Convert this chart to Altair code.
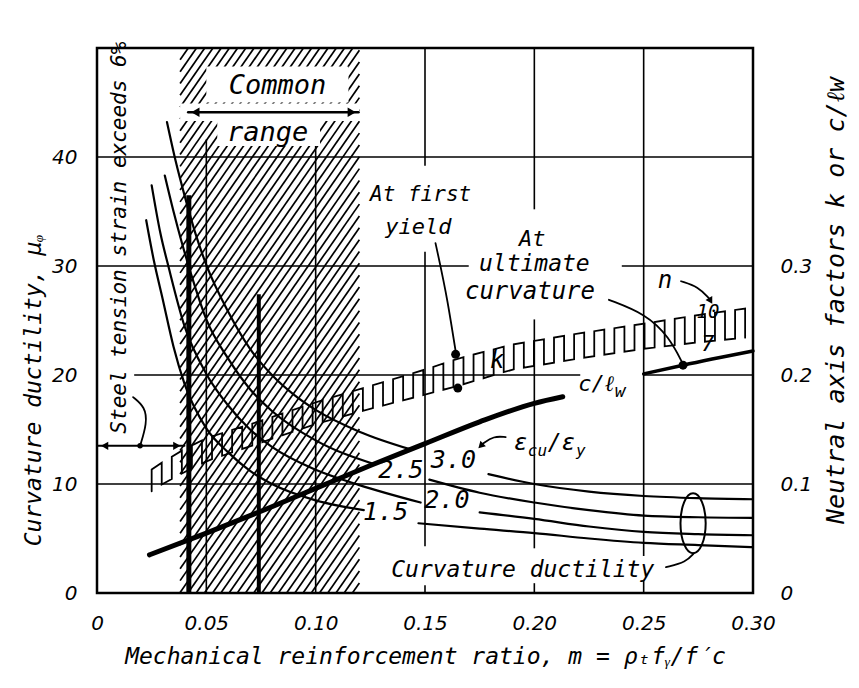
import altair as alt
import numpy as np
import pandas as pd

FONT = "DejaVu Sans"
LETTER = "DejaVu Sans Mono"

# ---------------- data ----------------
M_TICKS = [0, 0.05, 0.10, 0.15, 0.20, 0.25, 0.30]
MU_TICKS = [0, 10, 20, 30, 40]
K_TICKS = [0, 0.1, 0.2, 0.3]

# curvature ductility curves, eps_cu/eps_y = 3.0, 2.5, 2.0, 1.5 (split at their labels)
r30_m1 = [0.032, 0.036, 0.040, 0.045, 0.050, 0.060, 0.070, 0.080, 0.090, 0.100, 0.120, 0.143]
r30_mu1 = [43.2, 39.6, 36.5, 33.0, 30.1, 25.8, 22.4, 20.0, 18.2, 16.8, 14.8, 13.2]
r30_m2 = [0.179, 0.200, 0.225, 0.250, 0.275, 0.300]
r30_mu2 = [10.9, 10.0, 9.3, 8.9, 8.7, 8.6]

r25_m1 = [0.031, 0.035, 0.039, 0.045, 0.050, 0.060, 0.070, 0.080, 0.100, 0.127]
r25_mu1 = [38.3, 35.0, 32.0, 28.0, 25.1, 21.5, 18.7, 16.7, 14.0, 11.8]
r25_m2 = [0.152, 0.175, 0.200, 0.225, 0.250, 0.275, 0.300]
r25_mu2 = [10.4, 9.2, 8.3, 7.6, 7.1, 6.95, 6.9]

r20_m1 = [0.025, 0.029, 0.033, 0.040, 0.050, 0.060, 0.070, 0.080, 0.100, 0.120, 0.148]
r20_mu1 = [37.4, 33.0, 29.7, 24.5, 20.1, 17.2, 15.0, 13.4, 11.3, 9.9, 8.3]
r20_m2 = [0.175, 0.200, 0.225, 0.250, 0.275, 0.300]
r20_mu2 = [7.4, 6.8, 6.1, 5.6, 5.4, 5.3]

r15_m1 = [0.0225, 0.026, 0.030, 0.035, 0.040, 0.050, 0.060, 0.070, 0.080, 0.100, 0.122]
r15_mu1 = [34.2, 30.5, 27.0, 22.6, 19.2, 15.1, 12.9, 11.2, 10.0, 8.5, 7.6]
r15_m2 = [0.147, 0.175, 0.200, 0.225, 0.250, 0.275, 0.300]
r15_mu2 = [6.4, 5.9, 5.5, 5.0, 4.6, 4.4, 4.2]

# neutral axis factor k at first yield, n = 10 (upper) and n = 7 (lower)
k_m = [0.024, 0.030, 0.040, 0.050, 0.075, 0.100, 0.125, 0.150, 0.165, 0.190, 0.220, 0.250, 0.275, 0.300]
k_n10 = [0.112, 0.120, 0.132, 0.142, 0.158, 0.175, 0.190, 0.205, 0.215, 0.228, 0.238, 0.247, 0.255, 0.262]
k_n7 = [0.092, 0.100, 0.111, 0.121, 0.138, 0.155, 0.169, 0.182, 0.190, 0.205, 0.215, 0.224, 0.230, 0.235]

# c/lw at ultimate curvature
c_m1 = [0.024, 0.050, 0.075, 0.100, 0.125, 0.150, 0.175, 0.200, 0.213]
c_v1 = [0.035, 0.055, 0.075, 0.096, 0.117, 0.137, 0.157, 0.174, 0.180]
c_m2 = [0.250, 0.268, 0.300]
c_v2 = [0.201, 0.209, 0.222]

# common range of m and the 6 % steel strain limit
COMMON = [0.038, 0.120]
STEEL_LIMIT_M = 0.042
STEEL_LIMIT_MU = 36.5
EXAMPLE_M = 0.074
EXAMPLE_MU = 27.4

# grid line pieces (broken where the lettering sits)
vg_m = [0.05, 0.10, 0.15, 0.15, 0.15, 0.20, 0.20, 0.20, 0.25, 0.25]
vg_lo = [0, 0, 0, 4.3, 39.2, 0, 4.1, 35.2, 0, 3.4]
vg_hi = [41.6, 41.0, 0.7, 31.3, 50, 0.9, 25.1, 50, 1.2, 50]
hg_mu = [10, 20, 20, 30, 30, 40]
hg_lo = [0, 0.017, 0.250, 0, 0.240, 0]
hg_hi = [0.30, 0.221, 0.30, 0.170, 0.30, 0.30]

# ---------------- helpers ----------------
XS = alt.Scale(domain=[0, 0.30], nice=False, zero=False)
YS = alt.Scale(domain=[0, 50], nice=False, zero=False)

AXX = alt.Axis(
    values=M_TICKS, labelExpr="datum.value == 0 ? '0' : format(datum.value, '.2f')",
    labelPadding=20, title="Mechanical reinforcement ratio, m = ρₜfᵧ/f′c", titlePadding=12)
AXY = alt.Axis(
    values=MU_TICKS, labelPadding=20, title="Curvature ductility, μᵩ",
    titleAngle=270, titleX=-64, titleY=342, titleAlign="center", titleBaseline="middle")


def X(f="m"):
    return alt.X(f, type="quantitative", scale=XS, axis=AXX)


def Y(f="mu"):
    return alt.Y(f, type="quantitative", scale=YS, axis=AXY)


def line(ms, mus, width=2.2, interp="monotone"):
    d = pd.DataFrame({"m": ms, "mu": mus, "o": list(range(len(ms)))})
    return alt.Chart(d).mark_line(color="black", strokeWidth=width, interpolate=interp,
                                  strokeCap="round").encode(x=X(), y=Y(), order="o:Q")


def txt(s, m, mu, size=22, angle=0, align="center", baseline="middle"):
    d = pd.DataFrame({"m": [m], "mu": [mu], "t": [s]})
    return alt.Chart(d).mark_text(fontSize=size, angle=angle, align=align, baseline=baseline,
                                  font=LETTER, fontStyle="italic", color="black").encode(
        x=X(), y=Y(), text="t:N")


def head(m, mu, ang, size=90):
    d = pd.DataFrame({"m": [m], "mu": [mu]})
    return alt.Chart(d).mark_point(shape="triangle-up", filled=True, color="black", opacity=1,
                                   size=size, angle=ang).encode(x=X(), y=Y())


def dot(m, mu, size=80):
    d = pd.DataFrame({"m": [m], "mu": [mu]})
    return alt.Chart(d).mark_point(shape="circle", filled=True, color="black", opacity=1,
                                   size=size).encode(x=X(), y=Y())


def rect(m0, m1, y0, y1):
    d = pd.DataFrame({"m0": [m0], "m1": [m1], "y0": [y0], "y1": [y1]})
    return alt.Chart(d).mark_rect(color="white", opacity=1).encode(
        x=X("m0"), x2="m1", y=Y("y0"), y2="y1")


layers = []

# hatching of the common range
S = 288.8
step = 0.00376
L, R = COMMON
rows = []
for c in np.arange(L - 50 / S, R, step):
    a = max(L, c)
    b = min(R, c + 50 / S)
    if b > a:
        rows.append({"m0": a, "y0": S * (a - c), "m1": b, "y1": S * (b - c)})
hatch = pd.DataFrame(rows)
layers.append(alt.Chart(hatch).mark_rule(color="black", strokeWidth=1.7).encode(
    x=X("m0"), y=Y("y0"), x2="m1", y2="y1"))

# white boxes behind the "Common range" lettering
layers += [rect(0.050, 0.115, 45.0, 48.3), rect(COMMON[0], COMMON[1], 43.3, 44.9),
           rect(0.055, 0.102, 41.0, 43.3)]

# grid lines
vg = pd.DataFrame({"m": vg_m, "y0": vg_lo, "y1": vg_hi})
layers.append(alt.Chart(vg).mark_rule(color="black", strokeWidth=1.6).encode(
    x=X(), y=Y("y0"), y2="y1"))
hg = pd.DataFrame({"mu": hg_mu, "x0": hg_lo, "x1": hg_hi})
layers.append(alt.Chart(hg).mark_rule(color="black", strokeWidth=1.6).encode(
    y=Y(), x=X("x0"), x2="x1"))

# heavy verticals
thick = pd.DataFrame({"m": [STEEL_LIMIT_M, EXAMPLE_M], "y0": [0, 0],
                      "y1": [STEEL_LIMIT_MU, EXAMPLE_MU], "w": [5.0, 4.0]})
layers.append(alt.Chart(thick).mark_rule(color="black").encode(
    x=X(), y=Y("y0"), y2="y1", strokeWidth=alt.StrokeWidth("w:Q", scale=None)))

# ductility curves
for ma, ya, mb, yb in [(r30_m1, r30_mu1, r30_m2, r30_mu2), (r25_m1, r25_mu1, r25_m2, r25_mu2),
                       (r20_m1, r20_mu1, r20_m2, r20_mu2), (r15_m1, r15_mu1, r15_m2, r15_mu2)]:
    layers.append(line(ma, ya))
    layers.append(line(mb, yb))

# k band drawn as a meander between n = 10 and n = 7
legs = np.arange(0.025, 0.2995, 0.0046)
top = np.interp(legs, k_m, k_n10) * 100
bot = np.interp(legs, k_m, k_n7) * 100
wm, wy = [], []
for i, m in enumerate(legs):
    if i % 2 == 0:
        wm += [m, m]
        wy += [bot[i], top[i]]
    else:
        wm += [m, m]
        wy += [top[i], bot[i]]
layers.append(line(wm, wy, width=1.8, interp="linear"))

# c / lw
layers.append(line(c_m1, [v * 100 for v in c_v1], width=5.0))
layers.append(line(c_m2, [v * 100 for v in c_v2], width=3.5))

# arrows
layers.append(line([0.0417, 0.1196], [44.1, 44.1], width=2.5, interp="linear"))
layers += [head(0.045, 44.1, 270), head(0.1165, 44.1, 90)]
layers.append(line([0.0, 0.040], [13.5, 13.5], width=2.0, interp="linear"))
layers += [head(0.0035, 13.5, 270, 70), head(0.0365, 13.5, 90, 70), dot(0.0197, 13.5, 30)]
layers.append(line([0.0165, 0.0220, 0.0229, 0.0197], [17.97, 17.06, 15.6, 13.5], width=1.8,
                   interp="basis"))

# leaders and dots
layers.append(line([0.1548, 0.1603, 0.1640], [32.1, 26.7, 22.2], width=1.8))
layers.append(line([0.2341, 0.251, 0.2616, 0.268], [26.9, 25.6, 23.5, 21.0], width=1.8,
                   interp="basis"))
layers += [dot(0.164, 21.9), dot(0.165, 18.8), dot(0.268, 20.9)]
layers.append(line([0.1869, 0.1814, 0.1764], [14.3, 14.4, 13.7], width=1.8, interp="basis"))
layers.append(head(0.1755, 13.5, 225, 60))
layers.append(line([0.2671, 0.2749, 0.2800], [28.6, 28.1, 27.0], width=1.8, interp="basis"))
layers.append(head(0.2806, 26.8, 150, 60))
layers.append(line([0.273, 0.2694, 0.2602], [3.65, 2.83, 2.37], width=1.8, interp="basis"))

# ellipse grouping the ductility curves
ell = pd.DataFrame({"m": [0.2726], "mu": [6.4]})
layers.append(alt.Chart(ell).mark_point(
    shape="M0,-1A0.42,1,0,1,1,0,1A0.42,1,0,1,1,0,-1Z", filled=False, color="black",
    strokeWidth=2, size=3600, opacity=1).encode(x=X(), y=Y()))

# lettering
layers += [
    txt("Common", 0.0825, 46.5, 27),
    txt("range", 0.078, 42.2, 27),
    txt("Steel tension strain exceeds 6%", 0.0105, 32.6, 21, angle=270),
    txt("At first", 0.148, 36.5, 21),
    txt("yield", 0.147, 33.6, 22),
    txt("At", 0.199, 32.5, 22),
    txt("ultimate", 0.200, 30.2, 23),
    txt("curvature", 0.198, 27.6, 24),
    txt("k", 0.183, 21.3, 24),
    txt("c/ℓ", 0.2364, 19.2, 22, align="right"),
    txt("w", 0.2368, 18.4, 18, align="left"),
    txt("ε", 0.1906, 13.8, 23, align="left"),
    txt("cu", 0.1970, 13.0, 16, align="left"),
    txt("/ε", 0.2061, 13.8, 23, align="left"),
    txt("y", 0.2190, 13.0, 16, align="left"),
    txt("3.0", 0.163, 12.2, 25),
    txt("2.5", 0.139, 11.3, 25),
    txt("2.0", 0.160, 8.5, 25),
    txt("1.5", 0.132, 7.4, 25),
    txt("n", 0.2597, 28.6, 24),
    txt("10", 0.2794, 25.8, 19),
    txt("7", 0.2794, 22.8, 22),
    txt("Curvature ductility", 0.1947, 2.1, 23),
]

# axis carrier
axis_df = pd.DataFrame({"m": [0, 0.30], "mu": [0, 50]})
layers.append(alt.Chart(axis_df).mark_point(opacity=0).encode(x=X(), y=Y()))

main = alt.layer(*layers)

right = alt.Chart(pd.DataFrame({"k": [0, 0.5]})).mark_point(opacity=0).encode(
    y=alt.Y("k:Q", scale=alt.Scale(domain=[0, 0.5], nice=False, zero=False), axis=alt.Axis(
        orient="right", values=K_TICKS,
        labelExpr="datum.value == 0 ? '0' : format(datum.value, '.1f')",
        labelPadding=27, title="Neutral axis factors k or c/ℓw", titleFontSize=25,
        titleAngle=270, titleX=82, titleY=252, titleAlign="center", titleBaseline="middle")))

chart = alt.layer(main, right).resolve_scale(y="independent").properties(
    width=656, height=545,
    autosize=alt.AutoSizeParams(type="none"),
    padding={"left": 89, "top": 40, "right": 98, "bottom": 87},
).configure_view(stroke="black", strokeWidth=2.5).configure_axis(
    labelColor="black", titleColor="black", labelFont=FONT, titleFont=LETTER,
    labelFontStyle="italic", titleFontStyle="italic", titleFontWeight="normal",
    labelFontSize=20, titleFontSize=23, ticks=False, domain=False, grid=False,
    labelFlush=False, labelOverlap=False,
)

chart.save("out.html", embed_options={"renderer": "svg", "actions": False})
